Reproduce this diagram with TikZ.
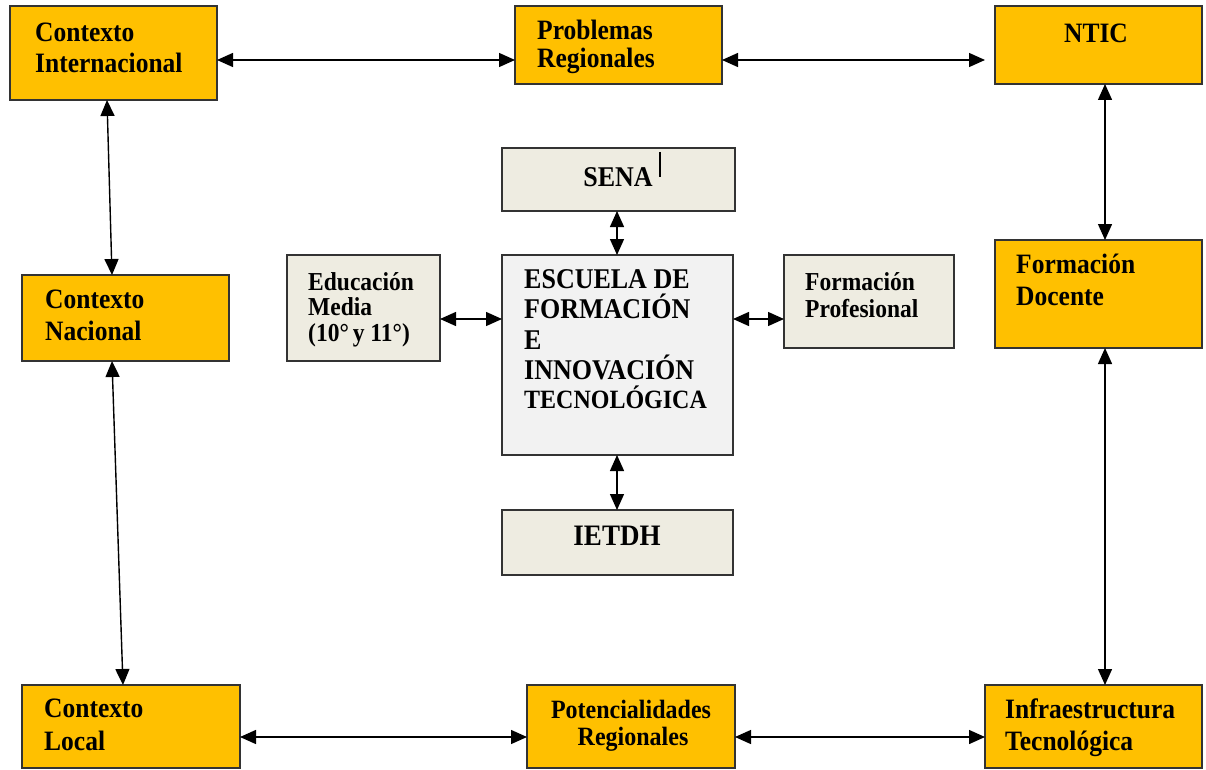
\documentclass[tikz,border=0pt]{standalone}
\usepackage{fontspec}
\usepackage{graphicx}
\setmainfont{Liberation Serif}
\usetikzlibrary{arrows.meta}
\definecolor{orangeC}{HTML}{FFC000}
\definecolor{grayC}{HTML}{EEECE1}
\definecolor{lightC}{HTML}{F2F2F2}
\definecolor{edgeC}{HTML}{333333}
\newcommand\vst[1]{\scalebox{1}[1.1]{#1}}
\begin{document}
\begin{tikzpicture}[x=1pt,y=-1pt,
  box/.style={draw=edgeC, line width=1.8pt, inner sep=0pt, outer sep=0pt, anchor=north west},
  obox/.style={box, fill=orangeC},
  gbox/.style={box, fill=grayC},
  lbox/.style={box, fill=lightC},
  lbl/.style={inner sep=0pt, anchor=base west, font=\bfseries\fontsize{25.5}{29}\selectfont},
  clbl/.style={lbl, anchor=base},
  glbl/.style={lbl, font=\bfseries\fontsize{23.5}{28}\selectfont},
  arr/.style={line width=1.4pt, {Triangle[length=16pt,width=14pt]}-{Triangle[length=16pt,width=14pt]}}
]
\useasboundingbox (0,0) rectangle (1206,770);

% boxes
\node[obox, minimum width=207pt, minimum height=94pt] (ci) at (10,6) {};
\node[obox, minimum width=207pt, minimum height=78pt] (pr) at (515,6) {};
\node[obox, minimum width=207pt, minimum height=78pt] (ntic) at (995,6) {};
\node[gbox, minimum width=233pt, minimum height=63pt] (sena) at (502,148) {};
\node[gbox, minimum width=153pt, minimum height=106pt] (em) at (287,255) {};
\node[lbox, minimum width=231pt, minimum height=200pt] (esc) at (502,255) {};
\node[gbox, minimum width=170pt, minimum height=93pt] (fp) at (784,255) {};
\node[obox, minimum width=207pt, minimum height=108pt] (fd) at (995,240) {};
\node[obox, minimum width=207pt, minimum height=86pt] (cn) at (22,275) {};
\node[gbox, minimum width=231pt, minimum height=65pt] (ietdh) at (502,510) {};
\node[obox, minimum width=218pt, minimum height=83pt] (cl) at (22,685) {};
\node[obox, minimum width=208pt, minimum height=83pt] (pot) at (527,685) {};
\node[obox, minimum width=217pt, minimum height=83pt] (inf) at (985,685) {};

% texts
\node[lbl] (ci1) at (35,42) {\vst{Contexto}};
\node[lbl] (ci2) at (35,73) {\vst{Internacional}};
\node[lbl] (pr1) at (537,40) {\vst{Problemas}};
\node[lbl] (pr2) at (537,68) {\vst{Regionales}};
\node[clbl] (nt1) at (1096,43) {\vst{NTIC}};
\node[clbl, font=\bfseries\fontsize{26}{29}\selectfont] (se1) at (618,186) {\vst{SENA}};
\draw[line width=1.8pt] (660,152) -- (660,177);
\node[glbl] (em1) at (308,290) {\vst{Educación}};
\node[glbl] (em2) at (308,315) {\vst{Media}};
\node[glbl] (em3) at (308,341) {\vst{(10°\,y 11°)}};
\node[lbl, font=\bfseries\fontsize{26}{30}\selectfont] (es1) at (524,288) {\vst{ESCUELA DE}};
\node[lbl, font=\bfseries\fontsize{26}{30}\selectfont] (es2) at (524,318) {\vst{FORMACIÓN}};
\node[lbl, font=\bfseries\fontsize{26}{30}\selectfont] (es3) at (524,349) {\vst{E}};
\node[lbl, font=\bfseries\fontsize{26}{30}\selectfont] (es4) at (524,379) {\vst{INNOVACIÓN}};
\node[lbl, font=\bfseries\fontsize{24}{30}\selectfont] (es5) at (524,408) {\vst{TECNOLÓGICA}};
\node[glbl] (fp1) at (805,290) {\vst{Formación}};
\node[glbl] (fp2) at (805,317) {\vst{Profesional}};
\node[lbl] (fd1) at (1016,273) {\vst{Formación}};
\node[lbl] (fd2) at (1016,305) {\vst{Docente}};
\node[lbl] (cn1) at (45,308) {\vst{Contexto}};
\node[lbl] (cn2) at (45,340) {\vst{Nacional}};
\node[clbl, font=\bfseries\fontsize{27}{30}\selectfont] (ie1) at (617,545) {\vst{IETDH}};
\node[lbl] (cl1) at (44,717) {\vst{Contexto}};
\node[lbl] (cl2) at (44,750) {\vst{Local}};
\node[clbl, font=\bfseries\fontsize{24}{28}\selectfont] (po1) at (631,718) {\vst{Potencialidades}};
\node[clbl, font=\bfseries\fontsize{24}{28}\selectfont] (po2) at (633,745) {\vst{Regionales}};
\node[lbl] (in1) at (1005,718) {\vst{Infraestructura}};
\node[lbl] (in2) at (1005,750) {\vst{Tecnológica}};

% connectors
\draw[arr] (ci.east |- 0,60) -- (pr.west |- 0,60);
\draw[arr, shorten >=10pt] (pr.east |- 0,60) -- (ntic.west |- 0,60);
\draw[arr] (ntic.south -| 1105,0) -- (fd.north -| 1105,0);
\draw[arr] (fd.south -| 1105,0) -- (inf.north -| 1105,0);
\draw[arr] (ci.south -| 107,0) -- (cn.north -| 112,0);
\draw[arr] (cn.south -| 112,0) -- (cl.north -| 123,0);
\draw[arr] (cl.east |- 0,737) -- (pot.west |- 0,737);
\draw[arr] (pot.east |- 0,737) -- (inf.west |- 0,737);
\draw[arr] (sena.south -| 617,0) -- (esc.north -| 617,0);
\draw[arr] (em.east |- 0,319) -- (esc.west |- 0,319);
\draw[arr] (esc.east |- 0,319) -- (fp.west |- 0,319);
\draw[arr] (esc.south -| 617,0) -- (ietdh.north -| 617,0);
\end{tikzpicture}
\end{document}
